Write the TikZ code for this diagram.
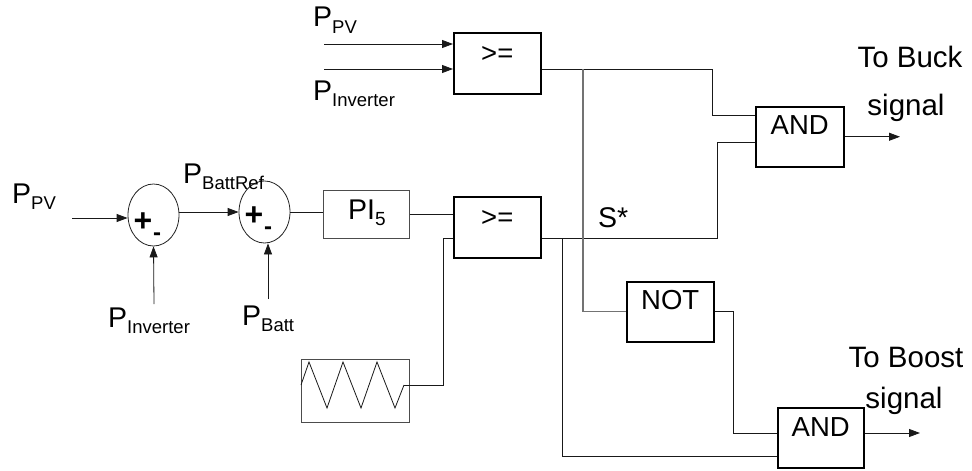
\documentclass[tikz,border=0pt]{standalone}
\usepackage{fontspec}
\setmainfont{Liberation Sans}
\usetikzlibrary{shapes.geometric,arrows.meta}
\newcommand\subtxt[2][18.5]{\raisebox{-6pt}{\fontsize{#1}{#1}\selectfont #2}}
\begin{document}
\begin{tikzpicture}[x=1pt,y=-1pt,
  lbl/.style={inner sep=0pt, anchor=base west, font=\fontsize{28.5}{30}\selectfont},
  sig/.style={inner sep=0pt, anchor=base, font=\fontsize{29.5}{31}\selectfont},
  wire/.style={line width=0.8pt, draw=black!90},
  gwire/.style={line width=1.1pt, draw=black!55},
  arr/.style={wire, -{Triangle[length=11pt,width=8pt]}},
  gate/.style={draw=black, line width=1.5pt, anchor=north west, inner sep=0pt},
  thinbox/.style={draw=black!70, line width=0.9pt, anchor=north west, inner sep=0pt},
  gtxt/.style={inner sep=0pt, font=\fontsize{27.5}{29}\selectfont},
  sumnode/.style={draw=black!85, ellipse, line width=0.8pt, minimum width=51pt, minimum height=62pt, inner sep=0pt},
  pm/.style={inner sep=0pt, font=\bfseries\fontsize{32}{34}\selectfont},
  mn/.style={inner sep=0pt, font=\bfseries\fontsize{24}{26}\selectfont},
]
\useasboundingbox (0,0) rectangle (972,471);

% blocks
\node[gate, minimum width=87pt, minimum height=61pt] (cmp1) at (453,32) {};
\node[gtxt] at ([yshift=-22pt]cmp1.north) {>=};
\node[gate, minimum width=87pt, minimum height=61pt] (cmp2) at (453,196) {};
\node[gtxt] at ([yshift=-22pt]cmp2.north) {>=};
\node[gate, minimum width=88pt, minimum height=60pt] (and1) at (755,106) {};
\node[gtxt] at ([yshift=-19pt]and1.north) {AND};
\node[gate, minimum width=87pt, minimum height=60pt] (not) at (626,281) {};
\node[gtxt] at ([yshift=-19pt]not.north) {NOT};
\node[gate, minimum width=86pt, minimum height=60pt] (and2) at (777,407) {};
\node[gtxt] at ([yshift=-20pt]and2.north) {AND};
\node[thinbox, minimum width=86pt, minimum height=48pt] (pi) at (323,190) {};
\node[lbl] (pitxt) at (348,219) {PI\subtxt[19]{5}};
\node[thinbox, minimum width=108pt, minimum height=63pt] (tri) at (301,359) {};
\draw[wire] (301,385) -- (309,362) -- (327,408) -- (343,362) -- (361,408) -- (377,362) -- (395,408) -- (404,385) coordinate (tw);

% summing junctions
\node[sumnode] (sum1) at (153.5,215) {};
\node[pm] at (143,222) {+};
\node[mn] at (157,237) {-};
\node[sumnode] (sum2) at (264.5,212) {};
\node[pm] at (254,216) {+};
\node[mn] at (268,231) {-};

% labels
\node[lbl] (lppv) at (12,203) {P\subtxt{PV}};
\node[lbl] (lppvt) at (313,27) {P\subtxt{PV}};
\node[lbl] (linvt) at (313,100) {P\subtxt{Inverter}};
\node[lbl] (lbref) at (183,183) {P\subtxt{BattRef}};
\node[lbl] (linvb) at (108,327) {P\subtxt{Inverter}};
\node[lbl] (lbatt) at (242,325) {P\subtxt{Batt}};
\node[lbl] (lsstar) at (598,227) {S*};
\node[sig] (lbuck1) at (910,67) {To Buck};
\node[sig] (lbuck2) at (906,115) {signal};
\node[sig] (lboost1) at (906,367) {To Boost};
\node[sig] (lboost2) at (904,408) {signal};

% inputs
\coordinate (ppvin) at (72,218);
\draw[arr] (ppvin) -- (ppvin -| sum1.west);
\coordinate (pinvin) at (154,304);
\draw[arr] (pinvin) -- (sum1.south);
\draw[arr] (sum1.east |- sum2.east) -- (sum2.west);
\coordinate (pbin) at (268,299);
\draw[arr] (pbin) -- (pbin |- sum2.south);
\draw[wire] (sum2.east) -- (sum2.east -| pi.west);
\draw[wire] (pi.east) -- (pi.east -| cmp2.west);

\coordinate (ppvt) at (324,44);
\draw[arr] (ppvt) -- (ppvt -| cmp1.west);
\coordinate (pinvt) at (324,69);
\draw[arr] (pinvt) -- (pinvt -| cmp1.west);

% comparator 1 output
\coordinate (b1) at (712,115);
\draw[wire] (cmp1.east |- pinvt) -| (b1) -- (b1 -| and1.west);

% triangle to comparator 2
\coordinate (c2in) at ([yshift=-11.5pt]cmp2.west);
\coordinate (b0) at (443,385);
\draw[wire] (tw) -- (b0) |- (c2in);

% comparator 2 output (S*)
\coordinate (c2out) at ([yshift=-11.5pt]cmp2.east);
\coordinate (b2) at (717,142);
\draw[wire] (c2out) -| (b2) -- (b2 -| and1.west);

% branch to AND2 lower input
\coordinate (j2) at (562,238);
\coordinate (a2in) at ([yshift=-19pt]and2.west);
\draw[wire] (j2) |- (a2in);

% branch from comparator 1 to NOT
\coordinate (j1) at (583,69);
\draw[gwire] (j1) |- (not.west);

% NOT to AND2
\coordinate (b3) at (733,433);
\draw[wire] (not.east) -| (b3) -- (b3 -| and2.west);

% outputs
\coordinate (buck) at (900,137);
\draw[arr] (and1.east) -- (and1.east -| buck);
\coordinate (boost) at (920,433);
\draw[arr] (and2.east |- boost) -- (boost);
\end{tikzpicture}
\end{document}
